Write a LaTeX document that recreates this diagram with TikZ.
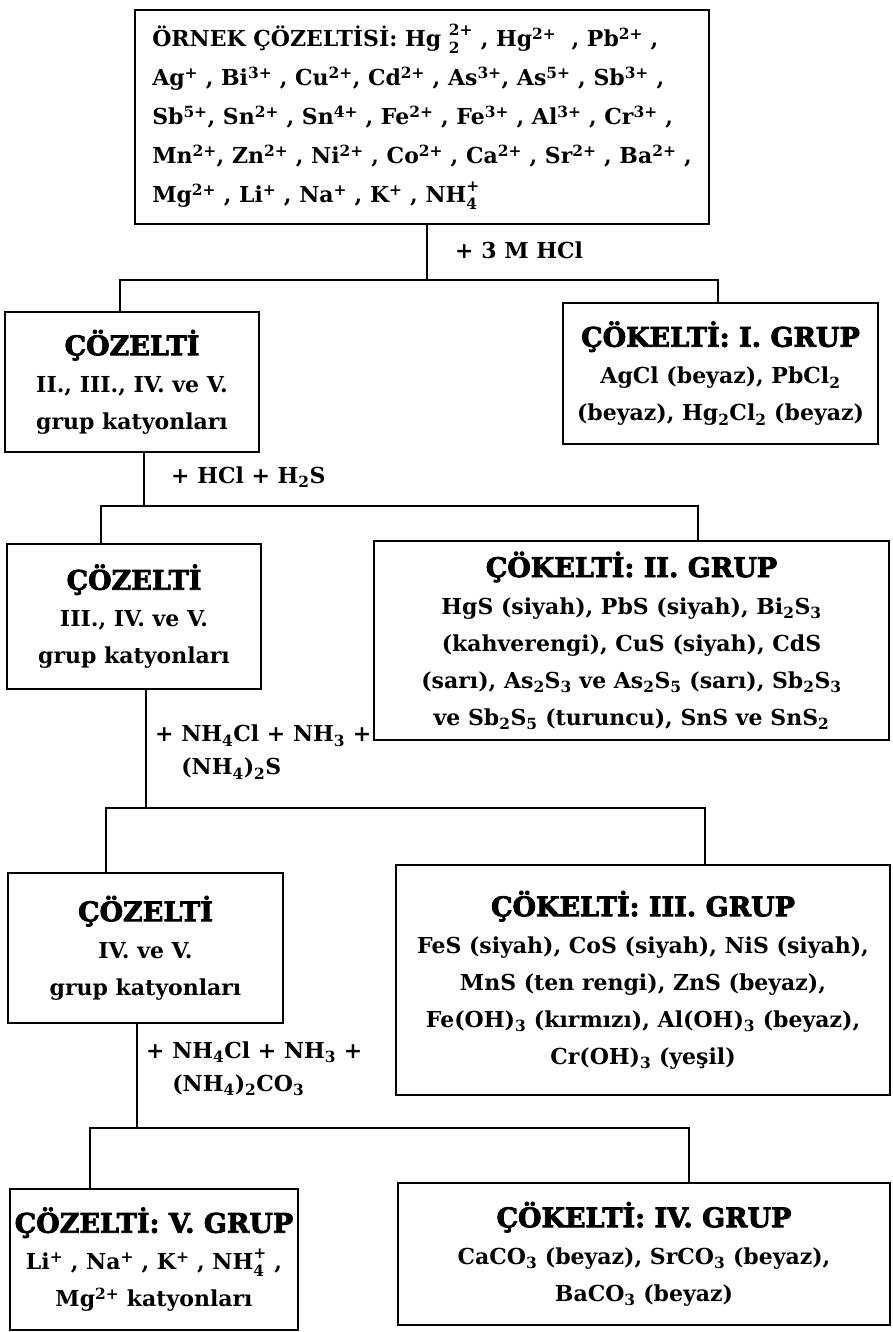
\documentclass[tikz,border=0pt]{standalone}
\usepackage{fontspec}
\setmainfont{DejaVu Serif}
\newfontfamily\kalinfont{DejaVu Serif}[FakeBold=3,BoldFeatures={FakeBold=3}]
\usetikzlibrary{positioning}
\newcommand{\dn}[1]{\textsubscript{#1}}
\newcommand{\up}[1]{\textsuperscript{#1}}
\newcommand{\ud}[2]{\ooalign{\raisebox{0.18em}{\textsuperscript{#1}}\cr\raisebox{-0.12em}{\textsubscript{#2}}}}
\newcommand{\baslik}[1]{{\kalinfont\bfseries\fontsize{27}{37}\selectfont #1}}

\tikzset{
  kutu/.style={draw,line width=2pt,align=center,inner sep=0pt,
    font=\bfseries\fontsize{22}{37}\selectfont},
  hat/.style={line width=1.3pt},
  ekle/.style={anchor=west,align=left,inner sep=0pt,
    font=\bfseries\fontsize{22}{33}\selectfont}
}

\begin{document}
\begin{tikzpicture}[x=1pt,y=-1pt]
  \useasboundingbox (0,0) rectangle (892,1332);
  % ornek cozeltisi
  \node[kutu,align=left,minimum width=574pt,minimum height=214pt,
        font=\bfseries\fontsize{22}{39}\selectfont] (ornek) at (422,117)
    {ÖRNEK ÇÖZELTİSİ: Hg \ud{2+}{2} , Hg\up{2+} \ , Pb\up{2+} ,\\
     Ag\up{+} , Bi\up{3+} , Cu\up{2+}, Cd\up{2+} , As\up{3+}, As\up{5+} , Sb\up{3+} ,\\
     Sb\up{5+}, Sn\up{2+} , Sn\up{4+} , Fe\up{2+} , Fe\up{3+} , Al\up{3+} , Cr\up{3+} ,\\
     Mn\up{2+}, Zn\up{2+} , Ni\up{2+} , Co\up{2+} , Ca\up{2+} , Sr\up{2+} , Ba\up{2+} ,\\
     Mg\up{2+} , Li\up{+} , Na\up{+} , K\up{+} , NH\ud{+}{4}};
  % cozeltiler (sol)
  \node[kutu,minimum width=254pt,minimum height=140pt] (coz1) at (132,382)
    {\baslik{ÇÖZELTİ}\\ II., III., IV. ve V.\\ grup katyonları};
  \node[kutu,minimum width=254pt,minimum height=145pt] (coz2) at (134,616.5)
    {\baslik{ÇÖZELTİ}\\ III., IV. ve V.\\ grup katyonları};
  \node[kutu,minimum width=275pt,minimum height=150pt] (coz3) at (145.5,948)
    {\baslik{ÇÖZELTİ}\\ IV. ve V.\\ grup katyonları};
  \node[kutu,minimum width=288pt,minimum height=141pt] (coz4) at (154,1259.5)
    {\baslik{ÇÖZELTİ: V. GRUP}\\ Li\up{+} , Na\up{+} , K\up{+} , NH\ud{+}{4} ,\\ Mg\up{2+} katyonları};
  % cokeltiler (sag)
  \node[kutu,minimum width=315pt,minimum height=141pt] (cok1) at (720.5,373.5)
    {\baslik{ÇÖKELTİ: I. GRUP}\\ AgCl (beyaz), PbCl\dn{2}\\ (beyaz), Hg\dn{2}Cl\dn{2} (beyaz)};
  \node[kutu,minimum width=515pt,minimum height=199pt] (cok2) at (631.5,640.5)
    {\baslik{ÇÖKELTİ: II. GRUP}\\ HgS (siyah), PbS (siyah), Bi\dn{2}S\dn{3}\\
     (kahverengi), CuS (siyah), CdS\\
     (sarı), As\dn{2}S\dn{3} ve As\dn{2}S\dn{5} (sarı), Sb\dn{2}S\dn{3}\\
     ve Sb\dn{2}S\dn{5} (turuncu), SnS ve SnS\dn{2}};
  \node[kutu,minimum width=494pt,minimum height=230pt] (cok3) at (643,980)
    {\baslik{ÇÖKELTİ: III. GRUP}\\ FeS (siyah), CoS (siyah), NiS (siyah),\\
     MnS (ten rengi), ZnS (beyaz),\\
     Fe(OH)\dn{3} (kırmızı), Al(OH)\dn{3} (beyaz),\\ Cr(OH)\dn{3} (yeşil)};
  \node[kutu,minimum width=492pt,minimum height=142pt] (cok4) at (644,1254)
    {\baslik{ÇÖKELTİ: IV. GRUP}\\ CaCO\dn{3} (beyaz), SrCO\dn{3} (beyaz),\\ BaCO\dn{3} (beyaz)};

  % ayrilma noktalari
  \coordinate (d1) at (427,280);  \coordinate (d1a) at (120,280);  \coordinate (d1b) at (718,280);
  \coordinate (d2) at (144,506);  \coordinate (d2a) at (101,506);  \coordinate (d2b) at (698,506);
  \coordinate (d3) at (146,808);  \coordinate (d3a) at (106,808);  \coordinate (d3b) at (705,808);
  \coordinate (d4) at (137,1128); \coordinate (d4a) at (90,1128);  \coordinate (d4b) at (689,1128);

  \draw[hat] (ornek.south -| d1) -- (d1);
  \draw[hat] (coz1.north -| d1a) -- (d1a) -- (d1b) -- (cok1.north -| d1b);
  \draw[hat] (coz1.south -| d2) -- (d2);
  \draw[hat] (coz2.north -| d2a) -- (d2a) -- (d2b) -- (cok2.north -| d2b);
  \draw[hat] (coz2.south -| d3) -- (d3);
  \draw[hat] (coz3.north -| d3a) -- (d3a) -- (d3b) -- (cok3.north -| d3b);
  \draw[hat] (coz3.south -| d4) -- (d4);
  \draw[hat] (coz4.north -| d4a) -- (d4a) -- (d4b) -- (cok4.north -| d4b);

  % reaktifler
  \node[ekle] (r1) at (455,250) {+ 3 M HCl};
  \node[ekle] (r2) at (171,477) {+ HCl + H\dn{2}S};
  \node[ekle] (r3) at (155,752) {+ NH\dn{4}Cl + NH\dn{3} +\\ \hphantom{+ }(NH\dn{4})\dn{2}S};
  \node[ekle] (r4) at (146,1069) {+ NH\dn{4}Cl + NH\dn{3} +\\ \hphantom{+ }(NH\dn{4})\dn{2}CO\dn{3}};
\end{tikzpicture}
\end{document}
